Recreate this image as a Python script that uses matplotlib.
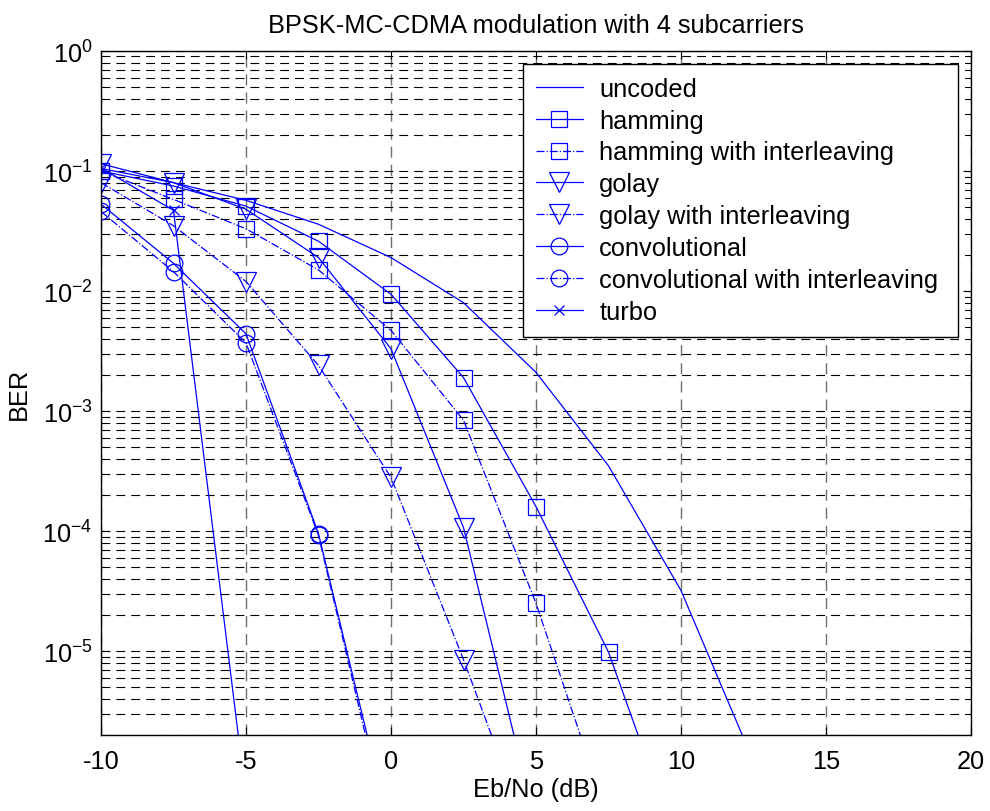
import numpy as np
import matplotlib
matplotlib.use("Agg")
import matplotlib.pyplot as plt
from matplotlib.ticker import LogLocator, NullFormatter

plt.rcParams['font.family'] = ['Liberation Sans', 'DejaVu Sans']
plt.rcParams['mathtext.fontset'] = 'custom'
plt.rcParams['mathtext.rm'] = 'Liberation Sans'
plt.rcParams['mathtext.it'] = 'Liberation Sans'
plt.rcParams['mathtext.bf'] = 'Liberation Sans'
plt.rcParams['axes.unicode_minus'] = False

# Eb/No points (dB) and BER
ebno = [-10, -7.5, -5, -2.5, 0, 2.5, 5, 7.5, 10, 12.5]
uncoded = [0.105, 0.08, 0.057, 0.036, 0.019, 8e-3, 2.1e-3, 3.5e-4, 3.2e-5, 1.2e-6]
hamming = [0.10, 0.075, 0.051, 0.026, 9.4e-3, 1.9e-3, 1.6e-4, 9.8e-6, 2e-7]
hamming_il = [0.10, 0.058, 0.033, 0.015, 4.7e-3, 8.4e-4, 2.5e-5, 4e-7]
golay = [0.115, 0.08, 0.048, 0.019, 3.3e-3, 1.07e-4, 3.5e-7]
golay_il = [0.08, 0.035, 0.012, 2.4e-3, 2.8e-4, 8.5e-6, 2e-7]
conv = [0.053, 0.017, 4.4e-3, 9.5e-5, 3e-7]
conv_il = [0.046, 0.0145, 3.7e-3, 9.2e-5, 2.5e-7]
turbo = [0.106, 0.047, 6e-7]

ber_ticks = [1e-5, 1e-4, 1e-3, 1e-2, 1e-1, 1]

series = [
    ('uncoded', uncoded, '-', None, 0),
    ('hamming', hamming, '-', 's', 11),
    ('hamming with interleaving', hamming_il, '-.', 's', 11),
    ('golay', golay, '-', 'v', 14),
    ('golay with interleaving', golay_il, '-.', 'v', 14),
    ('convolutional', conv, '-', 'o', 12),
    ('convolutional with interleaving', conv_il, '-.', 'o', 12),
    ('turbo', turbo, '-', 'x', 7),
]

FS = 18.3

fig = plt.figure(figsize=(9.9, 8.12), dpi=100)
ax = fig.add_axes([101 / 990, (812 - 736) / 812, 870 / 990, 684 / 812])

for name, ber, ls, mk, ms in series:
    ax.semilogy(ebno[:len(ber)], ber, color='blue', linestyle=ls, linewidth=0.9,
                marker=mk, markersize=ms, markerfacecolor='none',
                markeredgecolor='blue', markeredgewidth=0.9, label=name)

ax.set_xlim(-10, 20)
ax.set_ylim(2e-6, 1)
ax.set_xticks([-10, -5, 0, 5, 10, 15, 20])
ax.set_yticks(ber_ticks)
ax.yaxis.set_minor_locator(LogLocator(base=10, subs=np.arange(2, 10), numticks=20))
ax.yaxis.set_minor_formatter(NullFormatter())

ax.grid(True, which='major', axis='x', color='#707070', linestyle=(0, (8, 5)), linewidth=1.0)
ax.grid(True, which='both', axis='y', color='black', linestyle=(0, (8, 5.4)), linewidth=0.8)

ax.tick_params(which='both', direction='in', top=True, right=True, labelsize=FS)
ax.tick_params(which='minor', labelleft=False, labelright=False)
ax.tick_params(which='major', length=6)
ax.tick_params(which='minor', length=3)
ax.tick_params(axis='x', pad=10)
ax.tick_params(axis='y', pad=6)
for sp in ax.spines.values():
    sp.set_linewidth(1.0)

ax.set_title('BPSK-MC-CDMA modulation with 4 subcarriers', fontsize=FS, pad=14)
ax.set_xlabel('Eb/No (dB)', fontsize=FS, labelpad=3)
ax.set_ylabel('BER', fontsize=FS, labelpad=8)

# legend box: left edge ~523 px, right edge ~958 px, top ~65 px
leg = ax.legend(loc='upper left', bbox_to_anchor=(422 / 870, 671 / 684 - 0.4, 435 / 870, 0.4),
                mode='expand', fontsize=FS, fancybox=False, framealpha=1,
                edgecolor='black', handlelength=1.85, borderaxespad=0,
                borderpad=0.5, labelspacing=0.31, handletextpad=0.65)
leg.get_frame().set_linewidth(1.0)

fig.savefig('out.png', dpi=100)
